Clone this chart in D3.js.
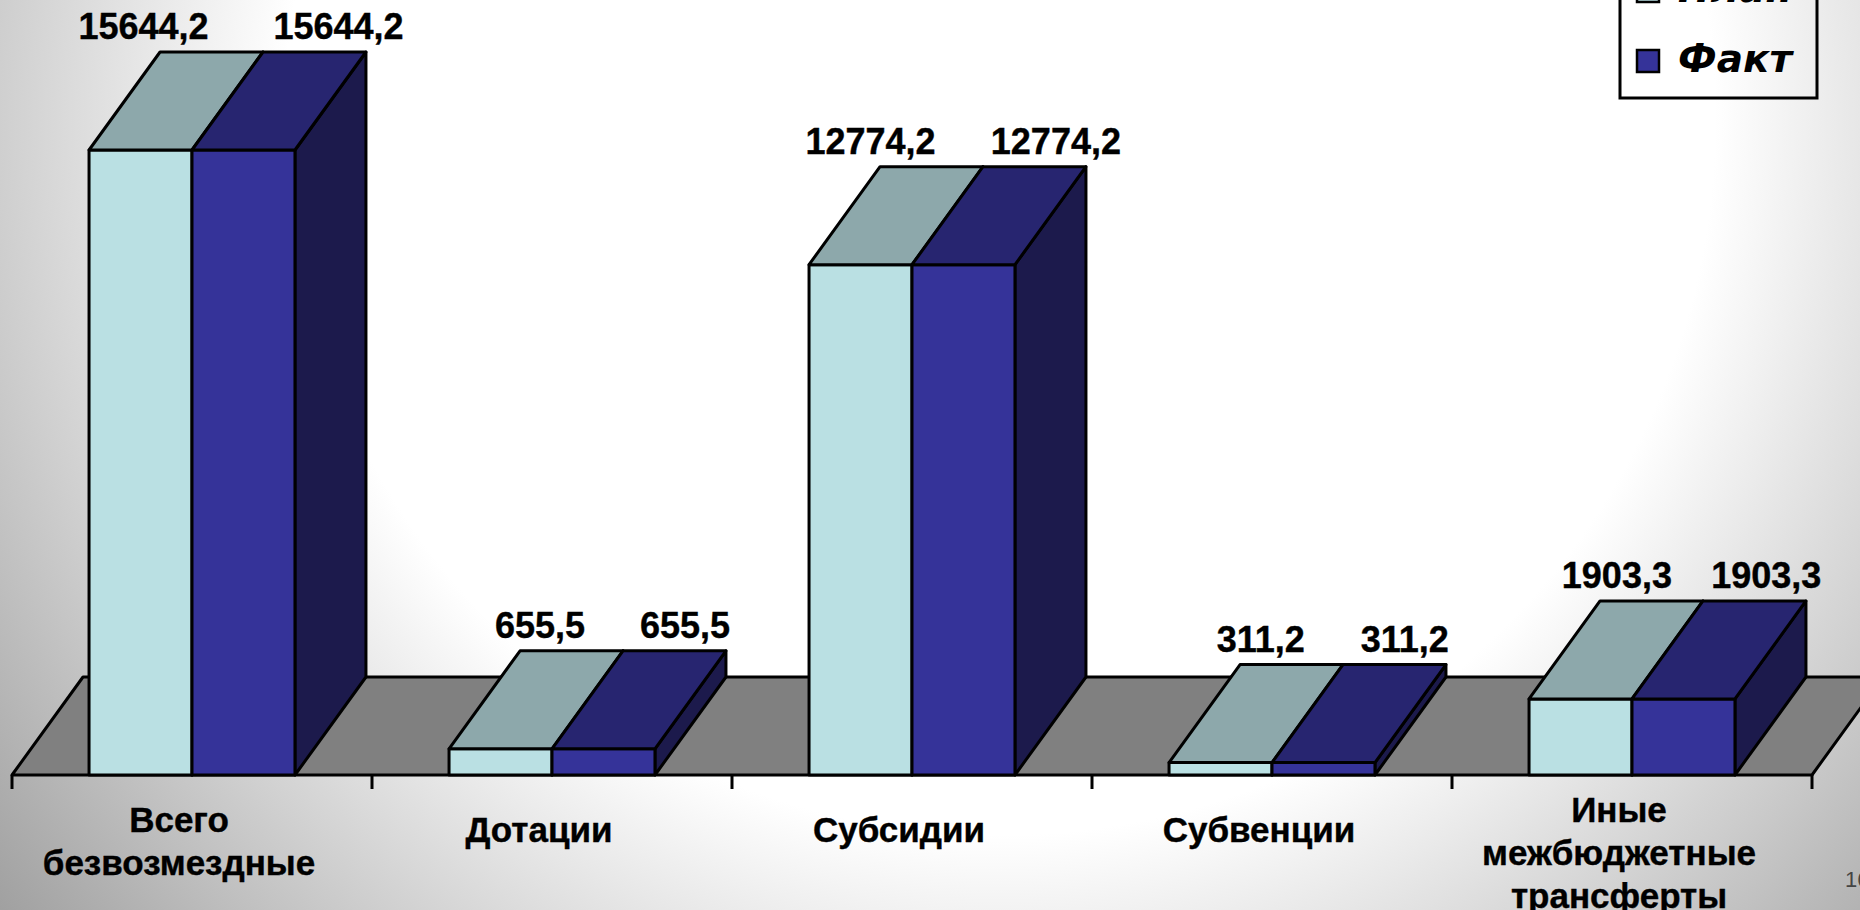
<!DOCTYPE html>
<html>
<head>
<meta charset="utf-8">
<script src="https://cdn.jsdelivr.net/npm/d3@7"></script>
<style>
  html, body { margin: 0; padding: 0; overflow: hidden; background: #fff; }
  svg { display: block; }
</style>
</head>
<body>
<svg id="chart" width="1860" height="910"></svg>
<script>
// ---- data ----
const categories = ["Всего безвозмездные", "Дотации", "Субсидии", "Субвенции", "Иные межбюджетные трансферты"];
const categoryLines = [["Всего", "безвозмездные"], ["Дотации"], ["Субсидии"], ["Субвенции"], ["Иные", "межбюджетные", "трансферты"]];
const seriesNames = ["План", "Факт"];
const planValues = [15644.2, 655.5, 12774.2, 311.2, 1903.3];
const factValues = [15644.2, 655.5, 12774.2, 311.2, 1903.3];
const slideNumber = "16";

// ---- styles ----
const W = 1860, H = 910;
const floorY = 775;
const depthX = 71, depthY = -98;
const colors = {
  "План": { front: "#BAE0E3", top: "#8DA8AB", side: "#7A9497" },
  "Факт": { front: "#353399", top: "#272570", side: "#1C1A4C" }
};

const svg = d3.select("#chart");
const defs = svg.append("defs");
const grad = defs.append("radialGradient")
  .attr("id", "bg").attr("gradientUnits", "userSpaceOnUse")
  .attr("cx", 1000).attr("cy", 120).attr("r", 1300);
[[0, "#ffffff"], [0.55, "#ffffff"], [0.77, "#cfcfcf"], [1, "#9c9c9c"]].forEach(([o, c]) =>
  grad.append("stop").attr("offset", o).attr("stop-color", c));
svg.append("rect").attr("width", W).attr("height", H).attr("fill", "url(#bg)");

const x = d3.scaleBand().domain(categories).range([12, 1812]).padding(0);
const xs = d3.scaleBand().domain(seriesNames)
  .range([x.bandwidth() * 0.214, x.bandwidth() * 0.786]).padding(0);
const y = d3.scaleLinear().domain([0, d3.max(planValues.concat(factValues))]).range([floorY, 150]);

// floor
const x0 = x.range()[0], x1 = x.range()[1];
svg.append("polygon")
  .attr("points", [[x0, floorY], [x0 + depthX, floorY + depthY], [x1 + depthX, floorY + depthY], [x1, floorY]].join(" "))
  .attr("fill", "#808080").attr("stroke", "#000").attr("stroke-width", 3).attr("stroke-linejoin", "round");

// ticks at category boundaries
const bounds = categories.map(c => x(c)).concat([x1]);
svg.append("g").selectAll("line").data(bounds).join("line")
  .attr("x1", d => d).attr("x2", d => d)
  .attr("y1", floorY).attr("y2", floorY + 14)
  .attr("stroke", "#000").attr("stroke-width", 3);

// bars
const fmt = v => d3.format(".1f")(v).replace(".", ",");
const rows = [];
categories.forEach((c, i) => {
  seriesNames.forEach((s, j) => {
    rows.push({ cat: c, ci: i, s, sj: j, v: (j === 0 ? planValues : factValues)[i] });
  });
});

const w = xs.bandwidth();
const bars = svg.append("g").selectAll("g.bar").data(rows).join("g").attr("class", "bar");
bars.each(function (d) {
  const g = d3.select(this);
  const bx = x(d.cat) + xs(d.s);
  const yt = y(d.v);
  const col = colors[d.s];
  const st = { stroke: "#000", "stroke-width": 3, "stroke-linejoin": "round" };
  const side = g.append("polygon")
    .attr("points", [[bx + w, yt], [bx + w + depthX, yt + depthY], [bx + w + depthX, floorY + depthY], [bx + w, floorY]].join(" "))
    .attr("fill", col.side);
  const front = g.append("rect")
    .attr("x", bx).attr("y", yt).attr("width", w).attr("height", floorY - yt)
    .attr("fill", col.front);
  const top = g.append("polygon")
    .attr("points", [[bx, yt], [bx + depthX, yt + depthY], [bx + w + depthX, yt + depthY], [bx + w, yt]].join(" "))
    .attr("fill", col.top);
  [side, front, top].forEach(el => Object.entries(st).forEach(([k, v]) => el.attr(k, v)));
});

// value labels
const hMax = floorY - y.range()[1];
svg.append("g").selectAll("text").data(rows).join("text")
  .attr("x", d => {
    const t = (floorY - y(d.v)) / hMax;
    const cx = x(d.cat) + xs(d.s) + w / 2 + depthX;
    return cx + (d.sj === 0 ? -(30 + 38 * t) : (10 + 14 * t));
  })
  .attr("y", d => y(d.v) + depthY - 13)
  .attr("text-anchor", "middle")
  .attr("font-family", "'Liberation Sans', Arial, sans-serif")
  .attr("font-weight", "bold").attr("font-size", 36).attr("fill", "#000")
  .attr("stroke", "#000").attr("stroke-width", 0.4)
  .text(d => fmt(d.v));

// category labels
const catG = svg.append("g").selectAll("text").data(categories).join("text")
  .attr("text-anchor", "middle")
  .attr("font-family", "'Liberation Sans', Arial, sans-serif")
  .attr("font-weight", "bold").attr("font-size", 35).attr("fill", "#000")
  .attr("stroke", "#000").attr("stroke-width", 0.4);
catG.each(function (c, i) {
  const lines = categoryLines[i];
  const cx = x(c) + x.bandwidth() / 2 - 13;
  const base = 842 - (lines.length - 1) * 10;
  d3.select(this).selectAll("tspan").data(lines).join("tspan")
    .attr("x", cx).attr("y", (l, k) => base + k * 43).text(l => l);
});

// legend
const lg = svg.append("g");
lg.append("rect").attr("x", 1620).attr("y", -60).attr("width", 197).attr("height", 158)
  .attr("fill", "none").attr("stroke", "#000").attr("stroke-width", 3);
seriesNames.forEach((s, j) => {
  const by = 72 - (seriesNames.length - 1 - j) * 70;
  lg.append("rect").attr("x", 1637).attr("y", by - 22).attr("width", 22).attr("height", 22)
    .attr("fill", colors[s].front).attr("stroke", "#000").attr("stroke-width", 2.5);
  lg.append("text").attr("x", 1678).attr("y", by)
    .attr("font-family", "'DejaVu Sans', Verdana, sans-serif")
    .attr("font-weight", "bold").attr("font-style", "italic").attr("font-size", 39)
    .attr("fill", "#000").text(s);
});

// slide number
svg.append("text").attr("x", 1845).attr("y", 887)
  .attr("font-family", "'Liberation Sans', Arial, sans-serif").attr("font-size", 22)
  .attr("fill", "#444").text(slideNumber);
</script>
</body>
</html>
